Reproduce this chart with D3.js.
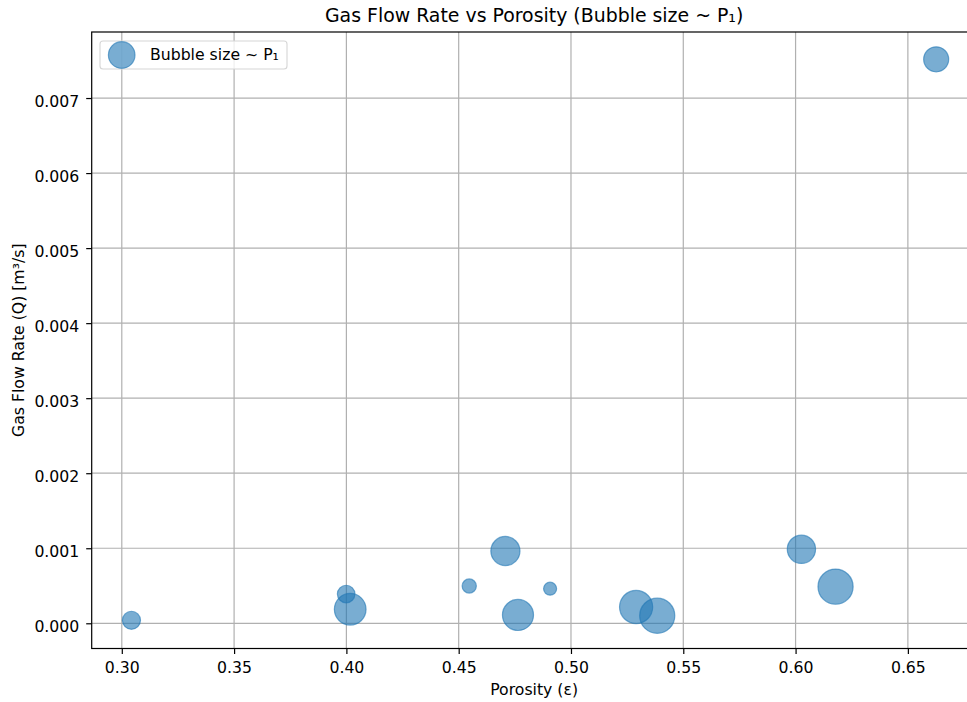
<!DOCTYPE html>
<html>
<head>
<meta charset="utf-8">
<script src="https://cdn.jsdelivr.net/npm/d3@7"></script>
<style>
  html, body { margin: 0; padding: 0; background: #fff; }
  svg { display: block; font-family: "DejaVu Sans", sans-serif; }
</style>
</head>
<body>
<svg id="chart" width="967" height="702"></svg>
<script>
// Porosity of each sample
const porosity = [0.3043, 0.3999, 0.4017, 0.4547, 0.4708, 0.4764, 0.4907, 0.5290, 0.5384, 0.6026, 0.6178, 0.6626];
// Gas flow rate Q [m³/s]
const flowRate = [0.00004, 0.00039, 0.000187, 0.000497, 0.000963, 0.000111, 0.000461, 0.000217, 0.000101, 0.000986, 0.000488, 0.007516];
// Bubble area, proportional to inlet pressure P₁
const bubbleSize = [170, 160, 520, 105, 440, 500, 88, 570, 640, 415, 640, 325];

const xTicks = [0.30, 0.35, 0.40, 0.45, 0.50, 0.55, 0.60, 0.65];
const yTicks = [0.000, 0.001, 0.002, 0.003, 0.004, 0.005, 0.006, 0.007];

const titleText = "Gas Flow Rate vs Porosity (Bubble size ~ P\u2081)";
const xLabel = "Porosity (\u03b5)";
const yLabel = "Gas Flow Rate (Q) [m\u00b3/s]";
const legendLabel = "Bubble size ~ P\u2081";

const color = "#1f77b4";
const plot = { left: 91.7, top: 32, right: 976.6, bottom: 648.5 };
const fontSize = 15.7, titleSize = 18.9, tickLen = 5.5;

const svg = d3.select("#chart");

const x = d3.scaleLinear().domain([0.2866, 0.6806]).range([plot.left, plot.right]);
const y = d3.scaleLinear().domain([-0.000336, 0.00788]).range([plot.bottom, plot.top]);
// marker area in pt² -> radius in px
const r = d3.scaleSqrt().domain([0, 100]).range([0, 10 / 2 * 100 / 72]);

// grid
const grid = svg.append("g");
grid.selectAll("line.gx").data(xTicks).join("line")
  .attr("x1", d => x(d)).attr("x2", d => x(d))
  .attr("y1", plot.top).attr("y2", plot.bottom)
  .attr("stroke", "#b0b0b0").attr("stroke-width", 1.2);
grid.selectAll("line.gy").data(yTicks).join("line")
  .attr("x1", plot.left).attr("x2", plot.right)
  .attr("y1", d => y(d)).attr("y2", d => y(d))
  .attr("stroke", "#b0b0b0").attr("stroke-width", 1.2);

// bubbles
const pts = porosity.map((p, i) => ({ p, q: flowRate[i], s: bubbleSize[i] }));
svg.append("g").selectAll("circle").data(pts).join("circle")
  .attr("cx", d => x(d.p)).attr("cy", d => y(d.q)).attr("r", d => r(d.s))
  .attr("fill", color).attr("fill-opacity", 0.6)
  .attr("stroke", color).attr("stroke-opacity", 0.6).attr("stroke-width", 1.2);

// axes
const xAxis = d3.axisBottom(x).tickValues(xTicks).tickFormat(d3.format(".2f")).tickSize(tickLen).tickPadding(8);
const yAxis = d3.axisLeft(y).tickValues(yTicks).tickFormat(d3.format(".3f")).tickSize(tickLen).tickPadding(6.9);

const gx = svg.append("g").attr("transform", `translate(0,${plot.bottom})`).call(xAxis);
const gy = svg.append("g").attr("transform", `translate(${plot.left},0)`).call(yAxis);
[gx, gy].forEach(g => {
  g.select(".domain").remove();
  g.selectAll(".tick line").attr("stroke", "#000").attr("stroke-width", 1.2);
  g.selectAll(".tick text").attr("fill", "#000").style("font-size", fontSize + "px").style("font-family", "DejaVu Sans");
});
gy.selectAll(".tick text").attr("dy", "0.55em");

// spines
svg.append("rect")
  .attr("x", plot.left).attr("y", plot.top)
  .attr("width", plot.right - plot.left).attr("height", plot.bottom - plot.top)
  .attr("fill", "none").attr("stroke", "#000").attr("stroke-width", 1.2);

// title and axis labels
svg.append("text").attr("x", (plot.left + plot.right) / 2).attr("y", 22)
  .attr("text-anchor", "middle").style("font-size", titleSize + "px").attr("fill", "#000").text(titleText);
svg.append("text").attr("x", (plot.left + plot.right) / 2).attr("y", 695)
  .attr("text-anchor", "middle").style("font-size", fontSize + "px").attr("fill", "#000").text(xLabel);
svg.append("text").attr("transform", `translate(24,${(plot.top + plot.bottom) / 2}) rotate(-90)`)
  .attr("text-anchor", "middle").style("font-size", fontSize + "px").attr("fill", "#000").text(yLabel);

// legend
const lg = svg.append("g");
lg.append("rect").attr("x", 100).attr("y", 41).attr("width", 187).attr("height", 28)
  .attr("rx", 3).attr("fill", "#fff").attr("fill-opacity", 0.8)
  .attr("stroke", "#d6d6d6").attr("stroke-width", 1.1);
lg.append("circle").attr("cx", 121.7).attr("cy", 55).attr("r", 13.3)
  .attr("fill", color).attr("fill-opacity", 0.6)
  .attr("stroke", color).attr("stroke-opacity", 0.6).attr("stroke-width", 1.2);
lg.append("text").attr("x", 150).attr("y", 60).style("font-size", fontSize + "px").attr("fill", "#000").text(legendLabel);
</script>
</body>
</html>
